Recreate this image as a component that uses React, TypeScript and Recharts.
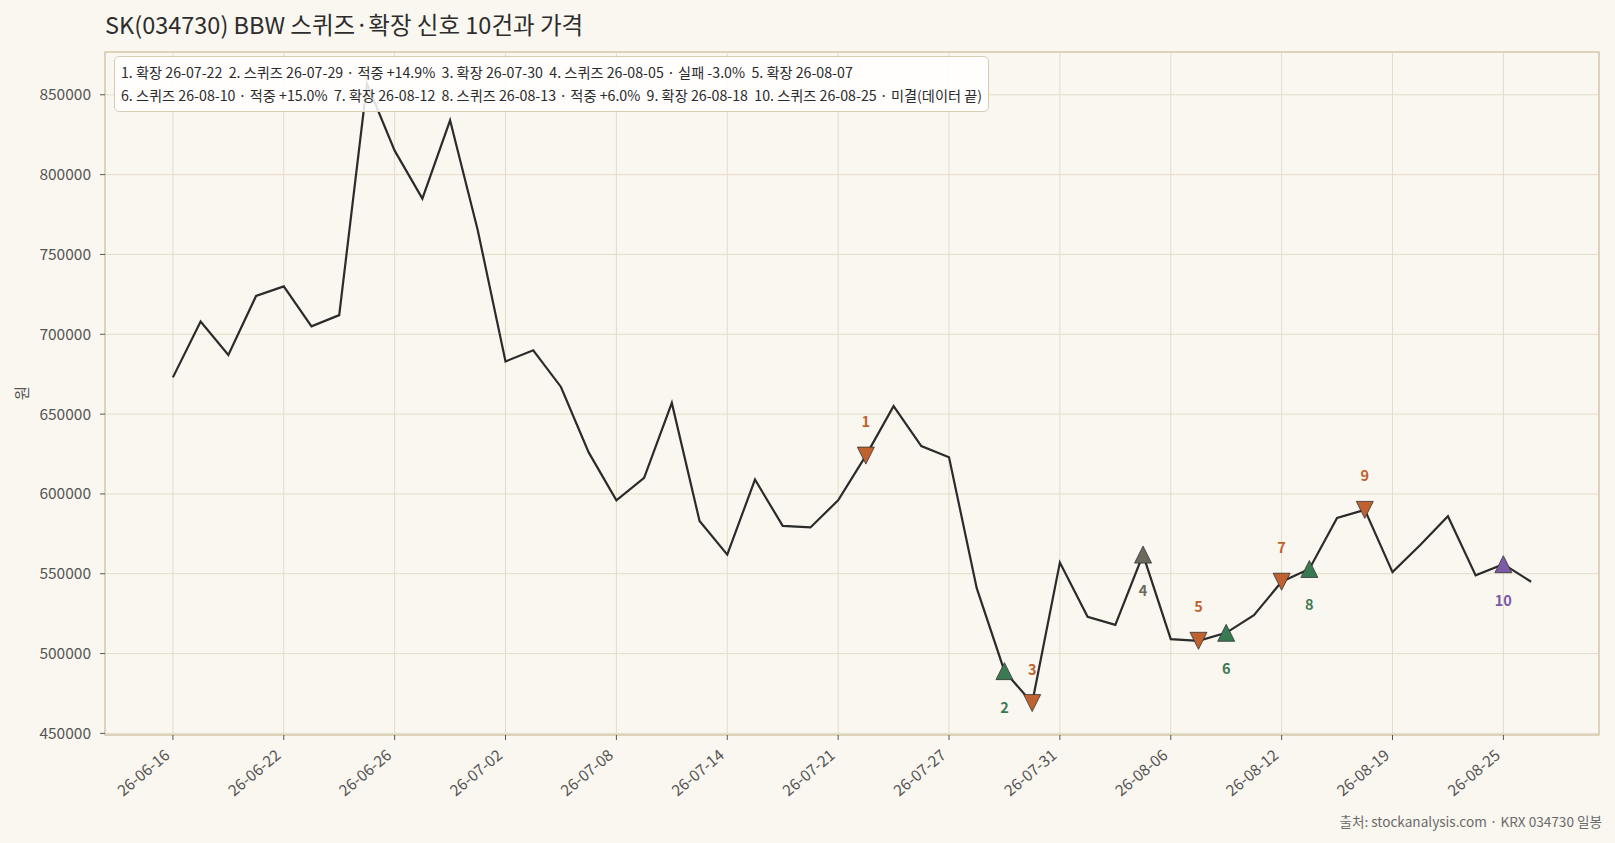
import React from 'react';
import {
  ComposedChart,
  Line,
  Scatter,
  XAxis,
  YAxis,
  CartesianGrid,
  ReferenceArea,
} from 'recharts';

// 일봉 종가 (26-06-16 ~ 26-08-26)
const dates = [
  '26-06-16', '26-06-17', '26-06-18', '26-06-19', '26-06-22', '26-06-23', '26-06-24', '26-06-25',
  '26-06-26', '26-06-29', '26-06-30', '26-07-01', '26-07-02', '26-07-03', '26-07-06', '26-07-07',
  '26-07-08', '26-07-09', '26-07-10', '26-07-13', '26-07-14', '26-07-15', '26-07-16', '26-07-20',
  '26-07-21', '26-07-22', '26-07-23', '26-07-24', '26-07-27', '26-07-28', '26-07-29', '26-07-30',
  '26-07-31', '26-08-03', '26-08-04', '26-08-05', '26-08-06', '26-08-07', '26-08-10', '26-08-11',
  '26-08-12', '26-08-13', '26-08-14', '26-08-18', '26-08-19', '26-08-20', '26-08-21', '26-08-24',
  '26-08-25', '26-08-26',
];

const prices = [
  673000, 708000, 687000, 724000, 730000, 705000, 712000, 857000,
  815000, 785000, 834000, 765000, 683000, 690000, 667000, 626000,
  596000, 610000, 657000, 583000, 562000, 609000, 580000, 579000,
  596000, 624000, 655000, 630000, 623000, 541000, 489000, 469000,
  557000, 523000, 518000, 562000, 509000, 508000, 513000, 524000,
  545000, 553000, 585000, 590000, 551000, 568000, 586000, 549000,
  556000, 545000,
];

// BBW 신호
const signalDates = [
  '26-07-22', '26-07-29', '26-07-30', '26-08-05', '26-08-07',
  '26-08-10', '26-08-12', '26-08-13', '26-08-18', '26-08-25',
];
const signalKinds = ['확장', '스퀴즈', '확장', '스퀴즈', '확장', '스퀴즈', '확장', '스퀴즈', '확장', '스퀴즈'];
const signalResults = ['', '적중 +14.9%', '', '실패 -3.0%', '', '적중 +15.0%', '', '적중 +6.0%', '', '미결(데이터 끝)'];

const xTicks = [0, 4, 8, 12, 16, 20, 24, 28, 32, 36, 40, 44, 48];
const yTicks = [450000, 500000, 550000, 600000, 650000, 700000, 750000, 800000, 850000];

const FONT = '"Noto Sans CJK KR", "Noto Sans", sans-serif';
const BG = '#faf7f0';
const GRID = '#e4dcc8';
const FRAME = '#d8ccb1';
const ORANGE = '#bf622f';
const GREEN = '#3a7a52';
const GRAY = '#6b685e';
const PURPLE = '#7b5aa6';

const X_MIN = -2.45;
const X_MAX = 51.45;
const Y_MIN = 449000;
const Y_MAX = 876800;

const priceData = prices.map((price, i) => ({ i, price }));

function signalColor(kind: string, result: string) {
  if (kind === '확장') return ORANGE;
  if (result.startsWith('적중')) return GREEN;
  if (result.startsWith('실패')) return GRAY;
  return PURPLE;
}

const signalData = signalDates.map((d, n) => {
  const i = dates.indexOf(d);
  return {
    i,
    price: prices[i],
    num: n + 1,
    kind: signalKinds[n],
    color: signalColor(signalKinds[n], signalResults[n]),
  };
});

const legendItems = signalDates.map((d, n) => {
  const res = signalResults[n] ? ` · ${signalResults[n]}` : '';
  return `${n + 1}. ${signalKinds[n]} ${d}${res}`;
});

function XTick(props: any) {
  const { x, y, payload } = props;
  return (
    <g transform={`translate(${x - 2},${y + 15}) rotate(-40)`}>
      <text textAnchor="end" fontSize={15.5} fill="#555" fontFamily={FONT}>
        {dates[payload.value]}
      </text>
    </g>
  );
}

function SignalMark(props: any) {
  const { cx, cy, payload } = props;
  const down = payload.kind === '확장';
  const h = 8.5;
  const pts = down
    ? `${cx - h},${cy - h} ${cx + h},${cy - h} ${cx},${cy + h}`
    : `${cx - h},${cy + h} ${cx + h},${cy + h} ${cx},${cy - h}`;
  return (
    <g>
      <polygon points={pts} fill={payload.color} stroke="#333" strokeWidth={0.8} />
      <text
        x={cx}
        y={down ? cy - 35 : cy + 35}
        textAnchor="middle"
        dominantBaseline="central"
        fontSize={14.5}
        fontWeight="bold"
        fill={payload.color}
        fontFamily={FONT}
      >
        {payload.num}
      </text>
    </g>
  );
}

export default function App() {
  return (
    <div
      style={{
        position: 'absolute',
        left: 0,
        top: 0,
        width: 1615,
        height: 843,
        background: BG,
        fontFamily: FONT,
        overflow: 'hidden',
      }}
    >
      <div
        style={{
          position: 'absolute',
          left: 105,
          top: 12,
          fontSize: 23.5,
          lineHeight: '24px',
          color: '#2d2d2d',
          whiteSpace: 'pre',
        }}
      >
        SK(034730) BBW 스퀴즈·확장 신호 10건과 가격
      </div>

      <ComposedChart
        width={1615}
        height={843}
        data={priceData}
        margin={{ top: 52, right: 16, bottom: 28, left: 0 }}
      >
        <CartesianGrid stroke={GRID} strokeWidth={1} />
        <XAxis
          dataKey="i"
          type="number"
          domain={[X_MIN, X_MAX]}
          ticks={xTicks}
          allowDataOverflow
          height={80}
          axisLine={false}
          tickLine={{ stroke: '#555' }}
          tickSize={5}
          tick={<XTick />}
          interval={0}
        />
        <YAxis
          type="number"
          domain={[Y_MIN, Y_MAX]}
          ticks={yTicks}
          allowDataOverflow
          width={105}
          axisLine={false}
          tickLine={{ stroke: '#555' }}
          tickSize={5}
          tickMargin={9}
          tick={{ fontSize: 15.5, fill: '#555', fontFamily: FONT }}
          interval={0}
        />
        <ReferenceArea
          x1={X_MIN}
          x2={X_MAX}
          y1={Y_MIN}
          y2={Y_MAX}
          fill="none"
          stroke={FRAME}
          strokeWidth={1.5}
          ifOverflow="visible"
        />
        <Line
          type="linear"
          dataKey="price"
          stroke="#2b2b2b"
          strokeWidth={2.2}
          dot={false}
          activeDot={false}
          isAnimationActive={false}
        />
        <Scatter
          data={signalData}
          dataKey="price"
          shape={(p: any) => <SignalMark {...p} />}
          isAnimationActive={false}
        />
      </ComposedChart>

      <div
        style={{
          position: 'absolute',
          left: 114,
          top: 56,
          padding: '4px 6px',
          fontSize: 14.2,
          lineHeight: '23px',
          color: '#2b2b2b',
          whiteSpace: 'pre',
          background: 'rgba(255,255,255,0.86)',
          border: `1px solid ${FRAME}`,
          borderRadius: 5,
        }}
      >
        <div>{legendItems.slice(0, 5).join('  ')}</div>
        <div>{legendItems.slice(5).join('  ')}</div>
      </div>

      <div
        style={{
          position: 'absolute',
          left: 14,
          top: 383,
          fontSize: 15.5,
          lineHeight: '20px',
          color: '#555',
          transform: 'rotate(-90deg)',
        }}
      >
        원
      </div>

      <div
        style={{
          position: 'absolute',
          right: 13,
          top: 812,
          fontSize: 13.6,
          lineHeight: '18px',
          color: '#6a6a6a',
          whiteSpace: 'pre',
        }}
      >
        출처: stockanalysis.com · KRX 034730 일봉
      </div>
    </div>
  );
}
